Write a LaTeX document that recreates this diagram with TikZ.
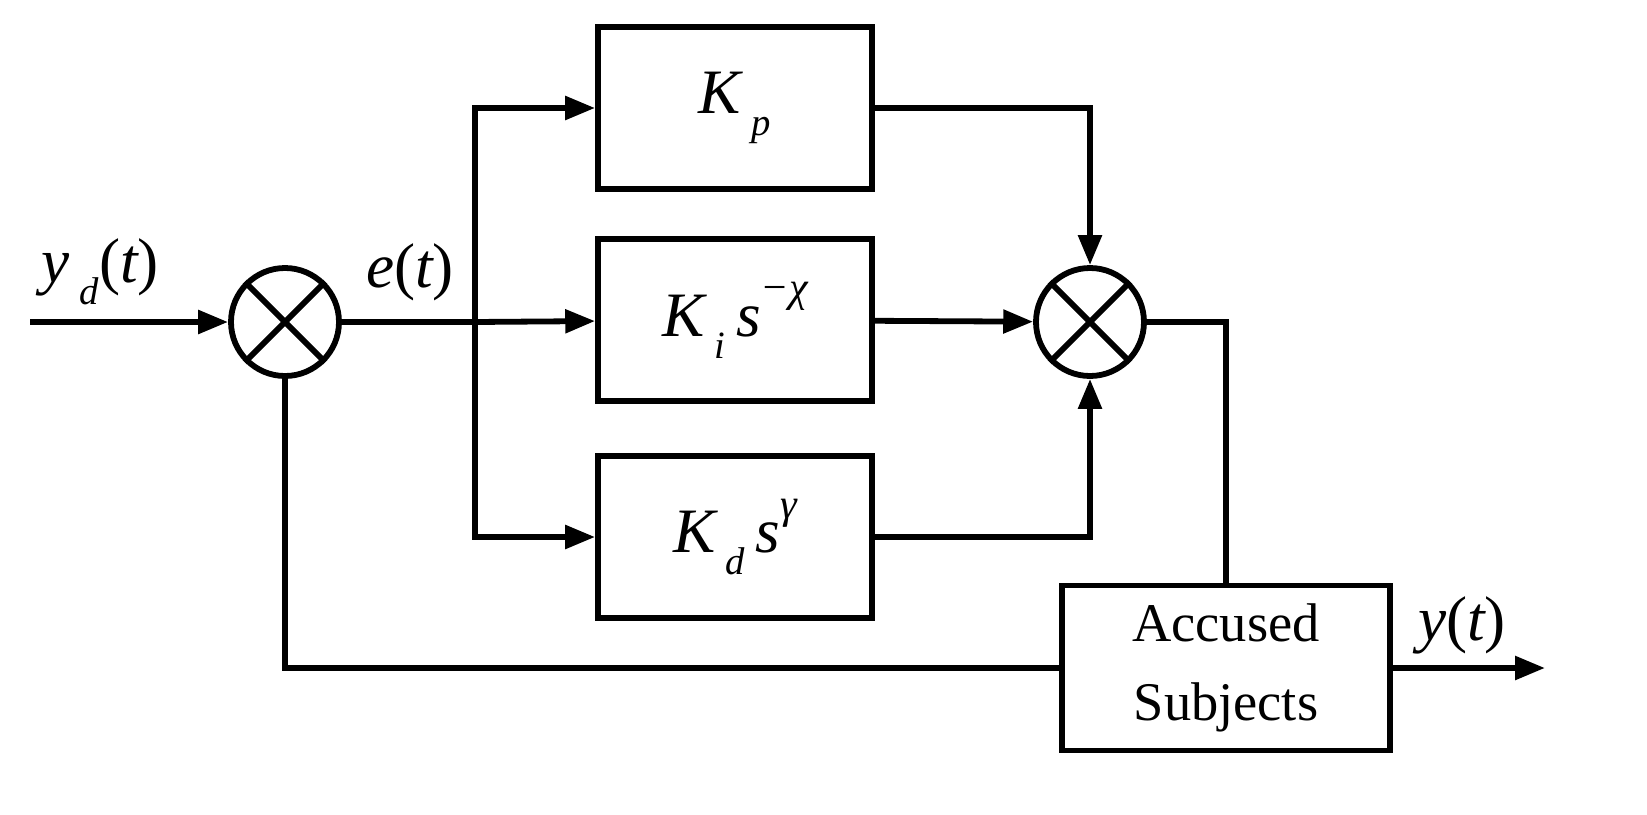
\documentclass[tikz,border=0pt]{standalone}
\usepackage{fontspec}
\setmainfont{Liberation Serif}
\usetikzlibrary{arrows.meta}
\newcommand{\sbs}[1]{\raisebox{-0.35em}{\fontsize{22}{24}\selectfont\itshape #1}}
\newcommand{\sps}[1]{\raisebox{0.55em}{\fontsize{24}{26}\selectfont #1}}
\begin{document}
\begin{tikzpicture}[x=0.02cm,y=-0.02cm,line width=3.3pt,
  blk/.style={draw,minimum width=274*0.02cm,minimum height=162*0.02cm,inner sep=0pt,font=\fontsize{36}{40}\selectfont\itshape},
  sum/.style={draw,circle,minimum size=108*0.02cm,inner sep=0pt},
  arr/.style={-{Triangle[length=17pt,width=13pt]}},
  lbl/.style={font=\fontsize{36}{40}\selectfont\itshape}]
\useasboundingbox (0,0) rectangle (1647,815);
\node[sum] (s1) at (285,322) {};
\draw (s1.45) -- (s1.225) (s1.135) -- (s1.-45);
\node[sum] (s2) at (1090,322) {};
\draw (s2.45) -- (s2.225) (s2.135) -- (s2.-45);
\node[blk] (kp) at (735,108) {K\,\sbs{p}};
\node[blk] (ki) at (735,320) {K\,\sbs{i}\,s\sps{−\itshape χ}};
\node[blk] (kd) at (735,537) {K\,\sbs{d}\,s\sps{\itshape γ}};
\node[blk,minimum width=328*0.02cm,minimum height=165*0.02cm,align=center,font=\fontsize{31}{45}\selectfont] (pl) at (1226,668) {Accused\\Subjects};
\coordinate (in) at (30,322);
\coordinate (br) at (475,322);
\coordinate (out) at (1545,668);
\draw[arr] (in) -- (s1);
\node[lbl] (ly) at (100,272) {y\,\sbs{d}\upshape(\itshape t\upshape)};
\node[lbl] (le) at (410,272) {e\upshape(\itshape t\upshape)};
\draw (s1) -- (br);
\draw[arr] (br) -- (ki);
\draw[arr] (br) |- (kp);
\draw[arr] (br) |- (kd);
\draw[arr] (kp) -| (s2);
\draw[arr] (ki) -- (s2);
\draw[arr] (kd) -| (s2);
\draw (s2.east) -| (pl.north);
\draw[arr] (pl) -- (out);
\node[lbl] (lyo) at (1462,625) {y\upshape(\itshape t\upshape)};
\draw (pl) -| (s1);
\end{tikzpicture}
\end{document}
